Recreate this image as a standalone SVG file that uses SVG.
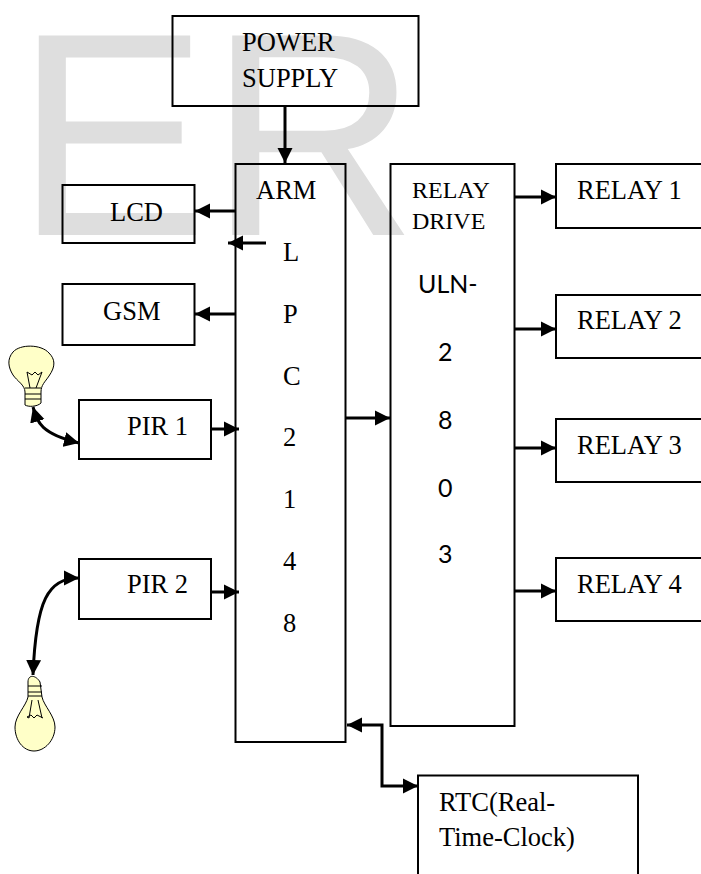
<svg xmlns="http://www.w3.org/2000/svg" width="701" height="874" viewBox="0 0 701 874">
<defs>
<marker id="a" markerUnits="userSpaceOnUse" markerWidth="16" markerHeight="16" refX="15" refY="8" orient="auto-start-reverse"><path d="M0 0.5L15 8L0 15.500Z" fill="#000"/></marker>
</defs>
<style>
.b{fill:none;stroke:#000;stroke-width:2}
.t{font-family:"Liberation Serif","Times New Roman",serif;font-size:26.500px;fill:#000}
.s{font-family:"Liberation Serif","Times New Roman",serif;font-size:24px;fill:#000}
.c{font-family:Lato,"Liberation Sans",Arial,sans-serif;font-size:25px;fill:#000}
.w{font-family:"Liberation Sans",Arial,sans-serif;font-size:290px;fill:#dedede}
.k{fill:none;stroke:#000;stroke-width:3;marker-end:url(#a)}
.d{fill:none;stroke:#000;stroke-width:3;marker-start:url(#a);marker-end:url(#a)}
.y{fill:#ffffc8;stroke:#000;stroke-width:1}
.f{fill:none;stroke:#000;stroke-width:1}
</style>
<rect width="701" height="874" fill="#fff"/>
<text class="w" x="15" y="235">ER</text>
<g id="power"><rect class="b" x="172.500" y="16" width="246" height="90"/><text class="t" x="242" y="51">POWER</text><text class="t" x="242" y="87">SUPPLY</text></g>
<g id="arm"><rect class="b" x="235.500" y="164" width="110" height="578"/>
<text class="t" x="256" y="199">ARM</text><text class="t" x="283" y="261">L</text><text class="t" x="283" y="323">P</text><text class="t" x="283" y="385">C</text><text class="t" x="283" y="446">2</text><text class="t" x="283" y="508">1</text><text class="t" x="283" y="570">4</text><text class="t" x="283" y="632">8</text></g>
<g id="lcd"><rect class="b" x="62.500" y="185" width="132" height="58"/><text class="t" x="110" y="221">LCD</text></g>
<g id="gsm"><rect class="b" x="62.500" y="284" width="132" height="61"/><text class="t" x="103" y="320">GSM</text></g>
<g id="pir1"><rect class="b" x="79" y="400" width="132" height="59"/><text class="t" x="127" y="435">PIR 1</text></g>
<g id="pir2"><rect class="b" x="79" y="559" width="132" height="60"/><text class="t" x="127" y="593">PIR 2</text></g>
<g id="relaydrive"><rect class="b" x="390.500" y="164" width="124" height="562"/>
<text class="s" x="412" y="198">RELAY</text><text class="s" x="412" y="229">DRIVE</text><text class="c" x="418" y="293">ULN-</text><text class="c" x="438" y="361">2</text><text class="c" x="438" y="429">8</text><text class="c" x="438" y="497">0</text><text class="c" x="438" y="563">3</text></g>
<g id="relay1"><rect class="b" x="556" y="164" width="150" height="64"/><text class="t" x="577" y="199">RELAY 1</text></g>
<g id="relay2"><rect class="b" x="556" y="295" width="150" height="63"/><text class="t" x="577" y="329">RELAY 2</text></g>
<g id="relay3"><rect class="b" x="556" y="419" width="150" height="63"/><text class="t" x="577" y="454">RELAY 3</text></g>
<g id="relay4"><rect class="b" x="556" y="558" width="150" height="63"/><text class="t" x="577" y="593">RELAY 4</text></g>
<g id="rtc"><rect class="b" x="418" y="775.500" width="220" height="110"/><text class="t" x="439" y="811">RTC(Real-</text><text class="t" x="439" y="846">Time-Clock)</text></g>
<g id="bulb1">
<path class="y" d="M25 405C28 407 37 407 41 403L41 392C41 385 45 382 49 376C56 366 55 359 49 353C41 344 20 344 13 352C7 359 8 367 13 375C17 381 25 385 25 392Z"/>
<path class="f" d="M25 388H41M25 394H41M25 399H41M30 388L27 372L32 375L35 372L38 375L42 372L36 388"/>
</g>
<g id="bulb2">
<path class="y" d="M28 682C28 674 36 675 40 682L42 697C44 706 55 716 55 727C55 740 45 751 34 751C23 751 15 740 15 727C15 716 26 706 28 697Z"/>
<path class="f" d="M28 686H42M28 692H42M28 696H42M32 700L29 718L27 717M38 700L42 718M27 717L31 715L34 718L37 715L43 718"/>
</g>
<g id="connectors">
<path class="k" d="M285 106V163"/>
<path class="k" d="M235 211H195"/>
<path class="k" d="M266 243H228"/>
<path class="k" d="M235 314H195"/>
<path class="k" d="M211 429H239"/>
<path class="k" d="M211 592H239"/>
<path class="k" d="M345 418H390"/>
<path class="k" d="M515 197H556"/>
<path class="k" d="M515 329H556"/>
<path class="k" d="M515 448H556"/>
<path class="k" d="M515 591H556"/>
<path class="d" d="M33 407C37 420 38 433 79 443"/>
<path class="d" d="M79 578C48 578 36 600 33 675"/>
<path class="d" d="M347 725H382V786H418"/>
</g>
</svg>
